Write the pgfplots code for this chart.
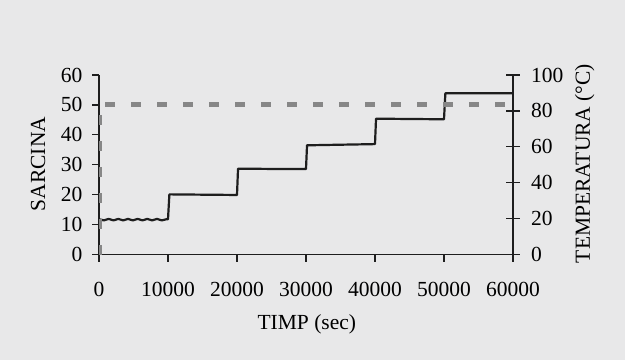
\documentclass[border=0pt]{standalone}
\usepackage{pgfplots}
\pgfplotsset{compat=1.18}
\usepackage{fontspec}
\setmainfont{Liberation Serif}
\definecolor{bg}{RGB}{232,232,233}
\definecolor{dgray}{RGB}{135,135,135}
\definecolor{lblack}{RGB}{30,30,30}
\begin{document}
\begin{tikzpicture}[x=1pt,y=1pt]
\fill[bg] (0,0) rectangle (625,360);
\useasboundingbox (0,0) rectangle (625,360);
\pgfplotsset{every axis/.append style={
  scale only axis, width=414pt, height=179.5pt,
  at={(99pt,105.5pt)}, anchor=south west,
  xmin=0, xmax=60000,
  tick label style={font=\fontsize{21.5}{24}\selectfont},
  label style={font=\fontsize{21.5}{24}\selectfont},
  /pgf/number format/assume math mode=true,
  axis line style={line width=1.2pt, lblack},
  every tick/.style={line width=1.2pt, lblack},
}}
\begin{axis}[
  axis x line*=bottom, axis y line*=left,
  ymin=0, ymax=60, ytick={0,10,...,60},
  xtick={0,10000,...,60000},
  scaled x ticks=false,
  xticklabel style={/pgf/number format/1000 sep={}, yshift=-17.5pt},
  yticklabel style={xshift=-6pt},
  tick align=outside, major tick length=7pt,
  xlabel={TIMP (sec)}, ylabel={SARCINA},
  xlabel style={at={(axis description cs:0.502,-0.4206)}, anchor=base},
  ylabel style={at={(axis description cs:-0.1473,0.504)}, anchor=center},
]
\addplot[lblack, line width=2.2pt, line join=round] coordinates {
(0,11.8) (700,11.4) (1400,11.9) (2100,11.4) (2800,11.9) (3500,11.4) (4200,11.9)
(4900,11.4) (5600,11.9) (6300,11.4) (7000,11.9) (7700,11.4) (8400,11.9) (9100,11.4) (9800,11.8) (10000,11.8)
(10200,20.1) (15000,20.0) (20000,19.9)
(20150,28.7) (25000,28.6) (30000,28.6)
(30150,36.5) (35000,36.7) (40000,36.9)
(40150,45.4) (45000,45.3) (50000,45.2)
(50200,53.9) (55000,53.9) (60000,53.9)
};
\end{axis}
\begin{axis}[
  axis y line*=right, axis x line=none,
  ymin=0, ymax=100, ytick={0,20,...,100},
  tick align=center, major tick length=14pt,
  yticklabel style={xshift=7.5pt},
  ylabel={TEMPERATURA (°C)},
  ylabel style={at={(axis description cs:1.186,0.507)}, anchor=base},
]
\addplot[dgray, line width=5pt, dash pattern=on 10pt off 16pt] coordinates {
(0,0) (0,83.3) (60000,83.3)
};
\end{axis}
\end{tikzpicture}
\end{document}
